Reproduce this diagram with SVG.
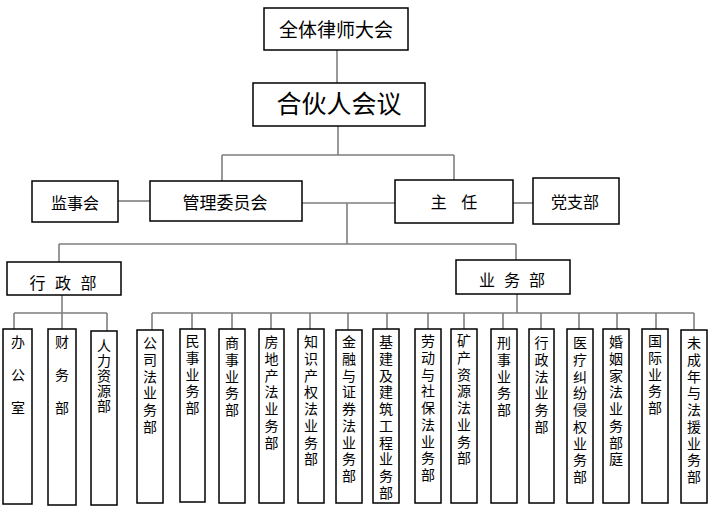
<svg xmlns="http://www.w3.org/2000/svg" width="711" height="508" viewBox="0 0 711 508">
<style>
.b{fill:#fff;stroke:#000;stroke-width:1.5}
.c{fill:none;stroke:#7f7f7f;stroke-width:1.6}
text{font-family:"Noto Sans CJK SC","Noto Sans CJK TC",sans-serif;fill:#000}
.h{font-size:16px;text-anchor:middle}
.v{font-size:14px;writing-mode:vertical-rl;text-orientation:upright;letter-spacing:2.7px}
</style>
<rect width="711" height="508" fill="#fff"/>
<g id="connectors">
<path class="c" d="M337 50V83"/>
<path class="c" d="M338 126V155M222 155H454M222 155V181M454 155V180"/>
<path class="c" d="M118 201H150"/>
<path class="c" d="M513 203H533"/>
<path class="c" d="M302 203H395M347 203V244M59 244H516M59 244V262M516 244V260"/>
<path class="c" d="M62 295V313M14 313H107M14 313V329M62 313V329M107 313V331"/>
<path class="c" d="M517 294V313M152 313H694"/>
<path class="c" d="M152 313V330M192 313V329M232 313V329M271 313V329M310 313V329M348 313V330M387 313V329M428 313V329M464 313V329M503 313V329M541 313V329M579 313V329M617 313V329M656 313V329M694 313V329"/>
</g>
<g id="n_all">
<rect class="b" x="264" y="8" width="144" height="42"/>
<text x="336" y="37" style="font-size:19px;text-anchor:middle">全体律师大会</text>
</g>
<g id="n_partners">
<rect class="b" x="253" y="83" width="172" height="43"/>
<text x="339" y="113" style="font-size:25px;text-anchor:middle">合伙人会议</text>
</g>
<g id="n_supervisory">
<rect class="b" x="32" y="181" width="86" height="41"/>
<text class="h" x="75" y="209">监事会</text>
</g>
<g id="n_mgmt">
<rect class="b" x="150" y="181" width="152" height="40"/>
<text class="h" x="225" y="209" style="font-size:17px">管理委员会</text>
</g>
<g id="n_director">
<rect class="b" x="395" y="180" width="118" height="43"/>
<text class="h" x="454" y="208" xml:space="preserve">主    任</text>
</g>
<g id="n_party">
<rect class="b" x="533" y="178" width="86" height="46"/>
<text class="h" x="575" y="208">党支部</text>
</g>
<g id="n_admin">
<rect class="b" x="7" y="262" width="114" height="33"/>
<text class="h" x="63" y="289" style="letter-spacing:9.5px" dx="4.75">行政部</text>
</g>
<g id="n_business">
<rect class="b" x="456" y="260" width="114" height="34"/>
<text class="h" x="512" y="286" style="letter-spacing:9px" dx="4.5">业务部</text>
</g>
<g id="n_office">
<rect class="b" x="3" y="329" width="29" height="175"/>
<text class="v" x="18" y="335" style="letter-spacing:19px">办公室</text>
</g>
<g id="n_finance">
<rect class="b" x="48" y="329" width="28" height="176"/>
<text class="v" x="62" y="335" style="letter-spacing:19px">财务部</text>
</g>
<g id="n_hr">
<rect class="b" x="91" y="331" width="26" height="174"/>
<text class="v" x="104" y="339" style="letter-spacing:1px">人力资源部</text>
</g>
<g id="n_b1"><rect class="b" x="137" y="330" width="26" height="173"/><text class="v" x="150" y="336">公司法业务部</text></g>
<g id="n_b2"><rect class="b" x="180" y="329" width="25" height="173"/><text class="v" x="192.5" y="334">民事业务部</text></g>
<g id="n_b3"><rect class="b" x="219" y="329" width="26" height="174"/><text class="v" x="232" y="336">商事业务部</text></g>
<g id="n_b4"><rect class="b" x="259" y="329" width="25" height="174"/><text class="v" x="271.5" y="335">房地产法业务部</text></g>
<g id="n_b5"><rect class="b" x="298" y="329" width="26" height="174"/><text class="v" x="311" y="335">知识产权法业务部</text></g>
<g id="n_b6"><rect class="b" x="336" y="330" width="26" height="173"/><text class="v" x="349" y="335">金融与证券法业务部</text></g>
<g id="n_b7"><rect class="b" x="373" y="329" width="26" height="174"/><text class="v" x="386" y="335">基建及建筑工程业务部</text></g>
<g id="n_b8"><rect class="b" x="415" y="329" width="26" height="174"/><text class="v" x="428" y="334">劳动与社保法业务部</text></g>
<g id="n_b9"><rect class="b" x="451" y="329" width="26" height="174"/><text class="v" x="464" y="334">矿产资源法业务部</text></g>
<g id="n_b10"><rect class="b" x="491" y="329" width="26" height="174"/><text class="v" x="504" y="336">刑事业务部</text></g>
<g id="n_b11"><rect class="b" x="529" y="329" width="25" height="174"/><text class="v" x="541.5" y="336">行政法业务部</text></g>
<g id="n_b12"><rect class="b" x="567" y="329" width="26" height="174"/><text class="v" x="580" y="336">医疗纠纷侵权业务部</text></g>
<g id="n_b13"><rect class="b" x="603" y="329" width="26" height="174"/><text class="v" x="616" y="335">婚姻家法业务部庭</text></g>
<g id="n_b14"><rect class="b" x="642" y="329" width="26" height="174"/><text class="v" x="655" y="334">国际业务部</text></g>
<g id="n_b15"><rect class="b" x="681" y="330" width="26" height="173"/><text class="v" x="694" y="336">未成年与法援业务部</text></g>
</svg>
